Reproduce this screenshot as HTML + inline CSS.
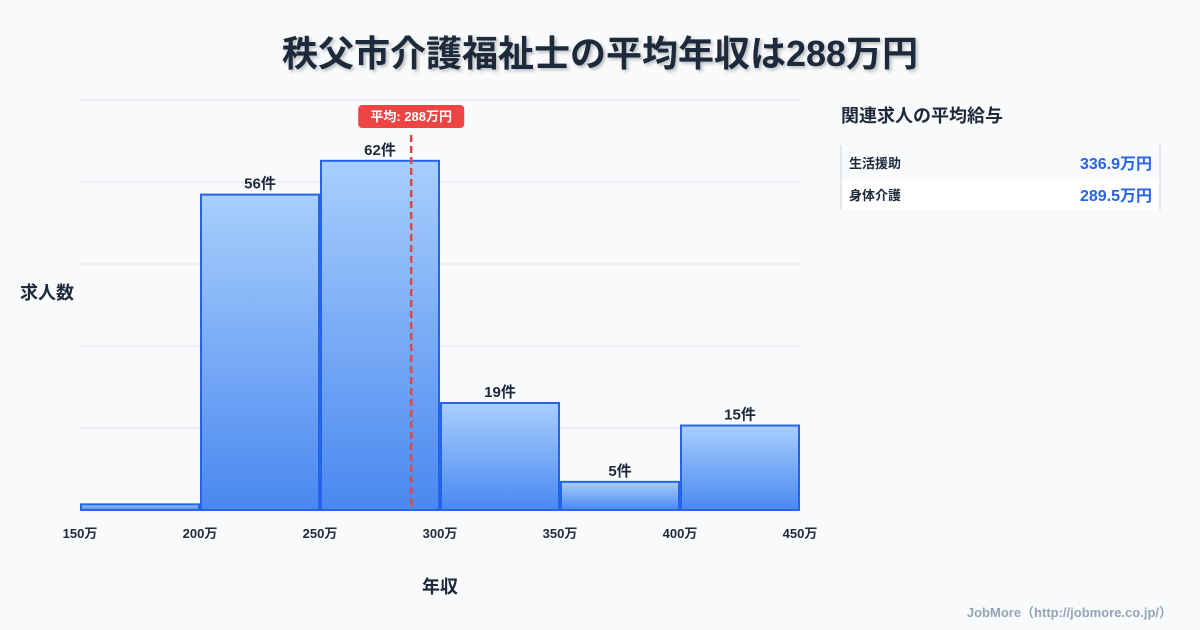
<!DOCTYPE html>
<html><head><meta charset="utf-8"><style>
body{margin:0;background:#f8fafc;font-family:"Liberation Sans","Noto Sans CJK JP",sans-serif;}
#wrap{position:relative;width:1200px;height:630px;overflow:hidden;background:#f8fafc}
</style></head><body>
<div id="wrap">
<svg id="chart" width="1200" height="630" style="position:absolute;left:0;top:0"></svg>
</div>
<script>
const binStarts=[150,200,250,300,350,400];
const binWidth=50;
const counts=[1,56,62,19,5,15];
const labels=["","56件","62件","19件","5件","15件"];
const xTicks=[150,200,250,300,350,400,450];
const avg=288;
const related=["生活援助","身体介護"];
const relatedVals=["336.9万円","289.5万円"];
const NS="http://www.w3.org/2000/svg";
const svg=document.getElementById('chart');
const X0=80,X1=800,XMIN=150,XMAX=450,YB=510,YT=100,YMAX=72.8;
const x=v=>X0+(v-XMIN)/(XMAX-XMIN)*(X1-X0);
const y=v=>YB-v/YMAX*(YB-YT);
function el(t,a,txt){const e=document.createElementNS(NS,t);for(const k in a)e.setAttribute(k,a[k]);if(txt!=null)e.textContent=txt;svg.appendChild(e);return e;}
const defs=el('defs',{});
defs.innerHTML='<linearGradient id="g" x1="0" y1="0" x2="0" y2="1"><stop offset="0" stop-color="#a8cffc"/><stop offset="1" stop-color="#4a88f0"/></linearGradient><filter id="sh"><feDropShadow dx="2" dy="2" stdDeviation="1.5" flood-color="#000" flood-opacity="0.25"/></filter>';
let t=el('text',{x:600,y:66,'text-anchor':'middle','font-size':36,'font-weight':'bold',fill:'#1e293b',filter:'url(#sh)'},'秩父市介護福祉士の平均年収は288万円');

for(let i=0;i<=5;i++){const gy=YB-i*(YB-YT)/5;const g=el('line',{x1:X0,x2:X1,y1:gy,y2:gy,stroke:'#e2e8f0','stroke-width':1});
}
binStarts.forEach((s,i)=>{
 const bx=x(s)+1,bw=x(s+binWidth)-x(s)-2,by=y(counts[i]);
 const r=el('rect',{x:bx,y:by,width:bw,height:YB-by,fill:'url(#g)',stroke:'#2563eb','stroke-width':2});
 
 if(labels[i]){const l=el('text',{x:bx+bw/2,y:by-6,'text-anchor':'middle','font-size':15,'font-weight':'bold',fill:'#1e293b'},labels[i]);
 }
});
xTicks.forEach(v=>{const l=el('text',{x:x(v),y:538,'text-anchor':'middle','font-size':13,'font-weight':'bold',fill:'#1e293b'},v+'万');
});
const ax=x(avg);
let al=el('line',{x1:ax,x2:ax,y1:135,y2:YB,stroke:'#e04848','stroke-width':2.5,'stroke-dasharray':'7,4'});

let ab=el('rect',{x:ax-53,y:105,width:106,height:23,rx:4,fill:'#ef4444'});

let at=el('text',{x:ax,y:121,'text-anchor':'middle','font-size':13,'font-weight':'bold',fill:'#fff'},'平均: '+avg+'万円');

let yt=el('text',{x:20,y:299,'font-size':18,'font-weight':'bold',fill:'#1e293b'},'求人数');

let xt=el('text',{x:440,y:593,'text-anchor':'middle','font-size':18,'font-weight':'bold',fill:'#1e293b'},'年収');

let rt=el('text',{x:841,y:122,'font-size':18,'font-weight':'bold',fill:'#1e293b'},'関連求人の平均給与');

let pb=el('line',{x1:841,x2:841,y1:145,y2:210,stroke:'#cbd5e1'});
let pr=el('line',{x1:1160,x2:1160,y1:145,y2:210,stroke:'#cbd5e1'});
related.forEach((n,i)=>{const ry=147+i*32;
 const bg=el('rect',{x:842,y:ry,width:317,height:31,fill:i%2?'#ffffff':'#f8fafc'});
 const a=el('text',{x:849,y:ry+21,'font-size':13,'font-weight':'bold',fill:'#1e293b'},n);
 const b=el('text',{x:1152,y:ry+22,'text-anchor':'end','font-size':16,'font-weight':'bold',fill:'#2563eb'},relatedVals[i]);
});
let ft=el('text',{x:1172,y:617,'text-anchor':'end','font-size':13,'font-weight':'bold',fill:'#94a3b8'},'JobMore（http://jobmore.co.jp/）');

</script>
</body></html>
